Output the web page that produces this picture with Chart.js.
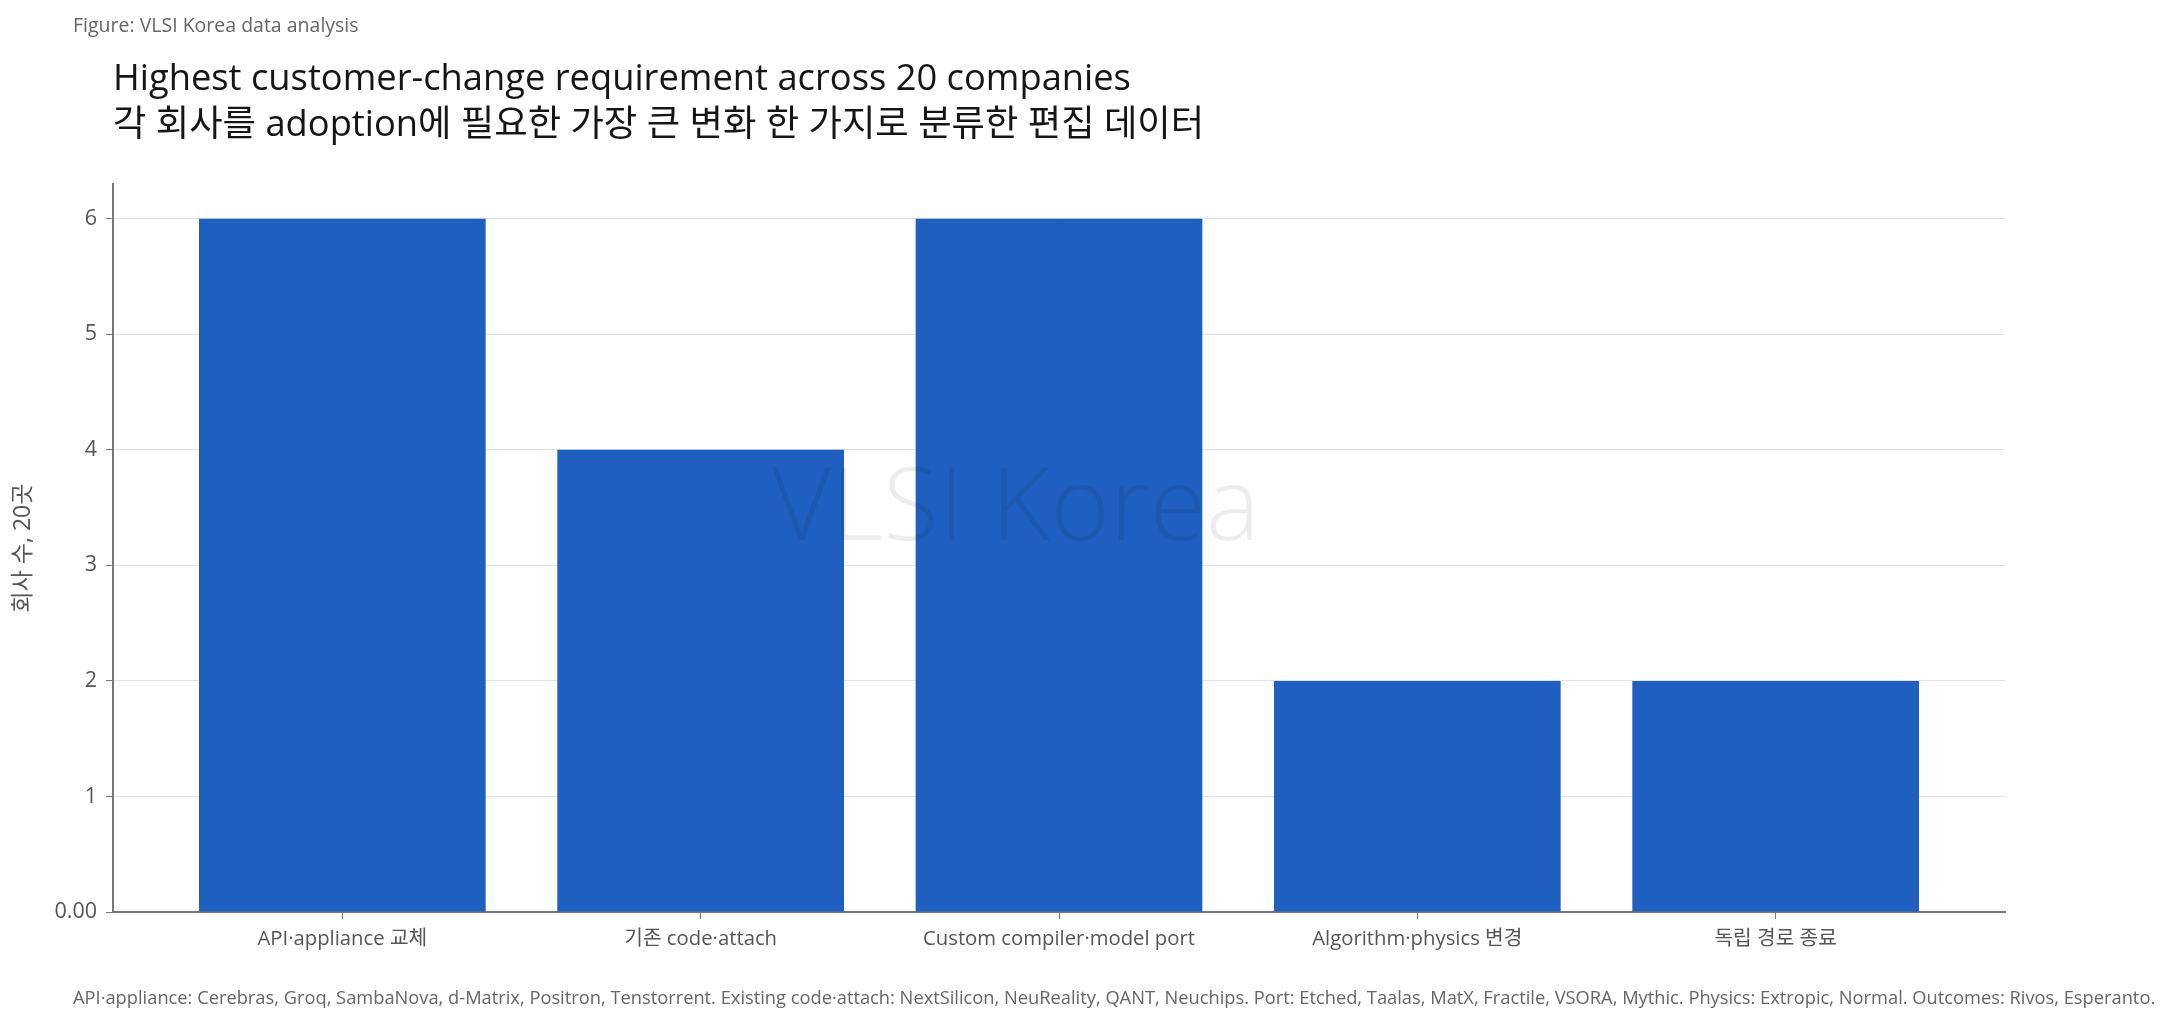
<!DOCTYPE html>
<html>
<head>
<meta charset="utf-8">
<script src="https://cdn.jsdelivr.net/npm/chart.js@4.4.1/dist/chart.umd.min.js"></script>
<style>
  html, body { margin: 0; padding: 0; background: #ffffff; }
  body { width: 2171px; height: 1025px; position: relative; overflow: hidden; font-family: "Open Sans", "Noto Sans CJK KR", sans-serif; }
  #wrap { position: absolute; left: 0; top: 0; width: 2171px; height: 1025px; }
  .caption { position: absolute; left: 73px; top: 13px; font-size: 19.5px; line-height: 24px; color: #666; white-space: nowrap; }
  .title { position: absolute; left: 113px; top: 53px; font-size: 36.3px; line-height: 46px; color: #151515; white-space: nowrap; }
  .footer { position: absolute; left: 73px; top: 986px; font-size: 18.3px; line-height: 22px; color: #666; white-space: nowrap; }
</style>
</head>
<body>
<div id="wrap"><canvas id="c" width="2171" height="1025"></canvas></div>
<div class="caption" id="caption"></div>
<div class="title" id="title"></div>
<div class="footer" id="footer"></div>
<script>
const captionText = "Figure: VLSI Korea data analysis";
const titleLines = ["Highest customer-change requirement across 20 companies", "각 회사를 adoption에 필요한 가장 큰 변화 한 가지로 분류한 편집 데이터"];
const footerText = "API·appliance: Cerebras, Groq, SambaNova, d-Matrix, Positron, Tenstorrent. Existing code·attach: NextSilicon, NeuReality, QANT, Neuchips. Port: Etched, Taalas, MatX, Fractile, VSORA, Mythic. Physics: Extropic, Normal. Outcomes: Rivos, Esperanto.";
const categories = ["API·appliance 교체", "기존 code·attach", "Custom compiler·model port", "Algorithm·physics 변경", "독립 경로 종료"];
const companyCounts = [6, 4, 6, 2, 2];
const yTickValues = [0, 1, 2, 3, 4, 5, 6];
const yAxisTitle = "회사 수, 20곳";
const watermarkText = "VLSI Korea";

document.getElementById('caption').textContent = captionText;
document.getElementById('title').innerHTML = titleLines.map(s => s.replace(/&/g,'&amp;').replace(/</g,'&lt;')).join('<br>');
document.getElementById('footer').textContent = footerText;

const FONT = '"Open Sans", "Noto Sans CJK KR", sans-serif';

const watermark = {
  id: 'watermark',
  afterDraw(chart) {
    const ctx = chart.ctx;
    const a = chart.chartArea;
    ctx.save();
    ctx.font = '300 102px ' + FONT;
    ctx.fillStyle = 'rgba(0,0,0,0.075)';
    ctx.textAlign = 'center';
    ctx.textBaseline = 'alphabetic';
    const cx = a.left + (a.right - a.left) * 0.4772;
    const by = a.top + (a.bottom - a.top) * 0.4890;
    ctx.fillText(watermarkText, cx, by);
    ctx.restore();
  }
};

new Chart(document.getElementById('c'), {
  type: 'bar',
  data: {
    datasets: [{
      data: companyCounts.map((v, i) => ({ x: i, y: v })),
      backgroundColor: '#1f5fbf',
      borderWidth: 0,
      barPercentage: 0.8,
      categoryPercentage: 1.0
    }]
  },
  options: {
    responsive: false,
    animation: false,
    devicePixelRatio: 1,
    layout: { padding: { left: 0, top: 184, right: 166, bottom: 53 } },
    plugins: { legend: { display: false }, tooltip: { enabled: false }, title: { display: false } },
    scales: {
      x: {
        type: 'linear',
        offset: false,
        z: 1,
        min: -0.64,
        max: 4.64,
        afterBuildTicks(scale) { scale.ticks = categories.map((_, i) => ({ value: i })); },
        afterFit(scale) { scale.height = 60; },
        grid: { display: true, drawOnChartArea: false, offset: false, tickLength: 7, tickColor: '#777', tickWidth: 1 },
        border: { display: true, color: '#777', width: 2 },
        ticks: {
          color: '#555',
          autoSkip: false,
          maxRotation: 0,
          font: { family: FONT, size: 20.3 },
          padding: 8,
          callback: (v) => categories[v]
        }
      },
      y: {
        z: 1,
        min: 0,
        max: 6.3,
        afterBuildTicks(scale) { scale.ticks = yTickValues.map(v => ({ value: v })); },
        afterFit(scale) { scale.width = 113; },
        grid: { color: '#e2e2e2', lineWidth: 1, tickLength: 7, tickColor: '#777', tickWidth: 1 },
        border: { display: true, color: '#777', width: 2 },
        ticks: {
          color: '#555',
          font: { family: FONT, size: 21.5 },
          padding: 9,
          callback: (v) => v === 0 ? '0.00' : String(v)
        },
        title: { display: true, text: yAxisTitle, color: '#555', font: { family: FONT, size: 23 }, padding: { top: 10, bottom: 0 } }
      }
    }
  },
  plugins: [watermark]
});
</script>
</body>
</html>
